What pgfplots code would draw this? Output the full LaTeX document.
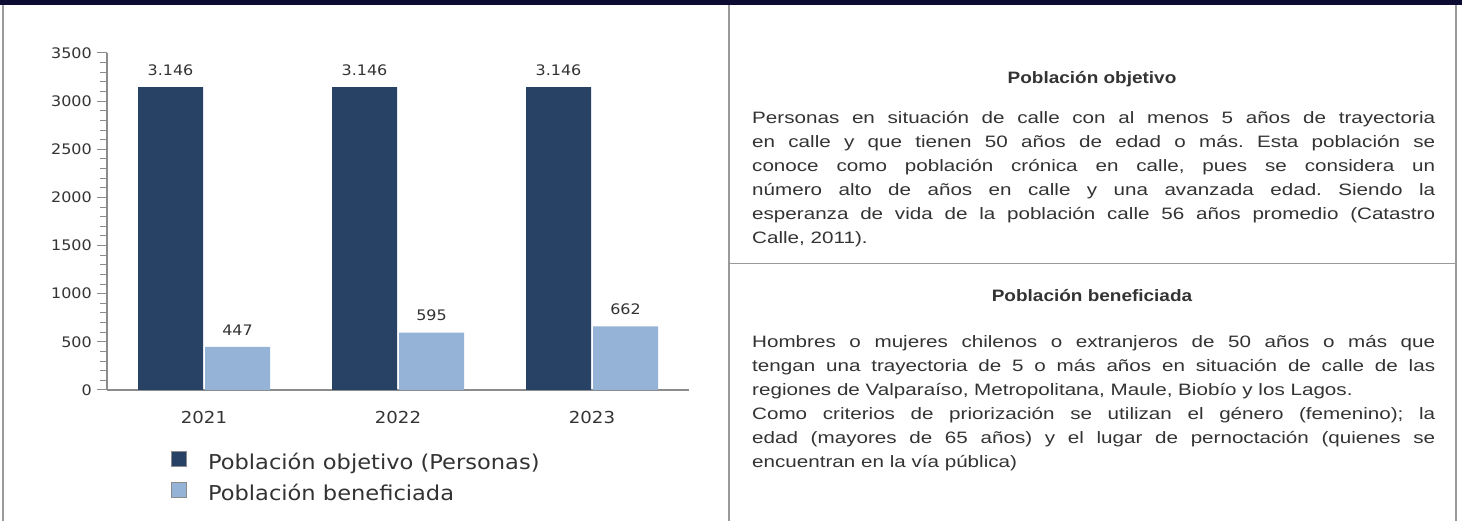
\documentclass[border=0pt]{standalone}
\usepackage{fontspec}
\usepackage{pgfplots}
\pgfplotsset{compat=1.18}
\newfontfamily\chartfont[FakeStretch=1.1]{DejaVu Sans}
\newfontfamily\bodyfont[FakeStretch=1.25]{Liberation Sans}
\newfontfamily\titlefont[FakeStretch=1.15]{Liberation Sans}
\definecolor{barDark}{HTML}{284266}
\definecolor{barLight}{HTML}{95B3D7}
\definecolor{axisGrey}{HTML}{8C8C8C}
\definecolor{txt}{HTML}{333333}
\definecolor{frameGrey}{HTML}{9A9A9A}
\definecolor{topNavy}{HTML}{0B0B33}
\setlength\parindent{0pt}
\frenchspacing

\begin{document}
\begin{tikzpicture}[x=1pt,y=1pt]
\useasboundingbox (0,0) rectangle (1462,521);
\fill[white] (0,0) rectangle (1462,521);
\fill[topNavy] (0,516) rectangle (1462,521);
% panel frame
\draw[frameGrey, line width=1.6pt] (3,0) -- (3,516);
\draw[frameGrey, line width=1.6pt] (729,0) -- (729,516);
\draw[frameGrey, line width=1.6pt] (1456,0) -- (1456,516);
\draw[frameGrey, line width=1.6pt] (729,257.5) -- (1456,257.5);

% right panel texts
\node[anchor=base, inner sep=0pt, text=txt, font=\titlefont\bfseries\fontsize{16.5}{20}\selectfont]
  at (1092,437) {Población objetivo};
\node[anchor=north west, inner sep=0pt, text width=683pt, align=justify, text=txt,
  font=\bodyfont\fontsize{16.5}{24}\selectfont] at (752,414.8)
  {\strut Personas en situación de calle con al menos 5 años de trayectoria\linebreak
   en calle y que tienen 50 años de edad o más. Esta población se\linebreak
   conoce como población crónica en calle, pues se considera un\linebreak
   número alto de años en calle y una avanzada edad. Siendo la\linebreak
   esperanza de vida de la población calle 56 años promedio (Catastro\linebreak
   Calle, 2011).};

\node[anchor=base, inner sep=0pt, text=txt, font=\titlefont\bfseries\fontsize{16.5}{20}\selectfont]
  at (1092,219) {Población beneficiada};
\node[anchor=north west, inner sep=0pt, text width=683pt, align=justify, text=txt,
  font=\bodyfont\fontsize{16.5}{24}\selectfont] at (752,190.8)
  {\strut Hombres o mujeres chilenos o extranjeros de 50 años o más que\linebreak
   tengan una trayectoria de 5 o más años en situación de calle de las\linebreak
   regiones de Valparaíso, Metropolitana, Maule, Biobío y los Lagos.\par
   Como criterios de priorización se utilizan el género (femenino); la\linebreak
   edad (mayores de 65 años) y el lugar de pernoctación (quienes se\linebreak
   encuentran en la vía pública)};

\begin{axis}[
  at={(107pt,131pt)}, anchor=south west,
  scale only axis, width=582pt, height=337pt,
  xmin=-0.5, xmax=2.5, ymin=0, ymax=3500,
  axis x line*=bottom, axis y line*=left,
  axis line style={axisGrey, line width=1.2pt},
  ybar=2pt, bar width=65pt,
  xtick={0,1,2}, xticklabels={2021,2022,2023},
  xtick style={draw=none},
  ytick={0,500,...,3500}, minor y tick num=4,
  ytick align=outside, major tick length=10pt, minor tick length=7pt,
  ytick style={axisGrey, line width=1pt},
  /pgf/number format/1000 sep={},
  /pgf/number format/assume math mode=true,
  yticklabel style={font=\chartfont\fontsize{14.5}{14.5}\selectfont, text=txt, inner sep=0pt, anchor=east, xshift=-5pt},
  xticklabel style={font=\chartfont\fontsize{16.5}{16.5}\selectfont, text=txt, inner sep=0pt, anchor=north, yshift=-11pt},
  nodes near coords={\pgfmathprintnumber[1000 sep={.}]{\pgfplotspointmeta}},
  nodes near coords style={font=\chartfont\fontsize{14.5}{14.5}\selectfont, text=txt, inner sep=0pt, yshift=11.5pt},
  legend cell align=left,
  legend style={at={(0.10997,-0.180)}, anchor=north west, draw=none, fill=none,
    inner sep=0pt, outer sep=0pt, row sep=9pt, column sep=21pt,
    font=\chartfont\fontsize{20.5}{20.5}\selectfont, text=txt,
    nodes={inner sep=0pt, text height=16pt, text depth=4pt}},
  legend image code/.code={\draw[#1, draw=axisGrey, line width=1pt] (0pt,-2.9pt) rectangle (15pt,12.1pt);},
  clip=false,
]
\addplot[fill=barDark, draw=none] coordinates {(0,3146) (1,3146) (2,3146)};
\addplot[fill=barLight, draw=none] coordinates {(0,447) (1,595) (2,662)};
\legend{Población objetivo (Personas), Población beneficiada}
\end{axis}
\end{tikzpicture}
\end{document}
